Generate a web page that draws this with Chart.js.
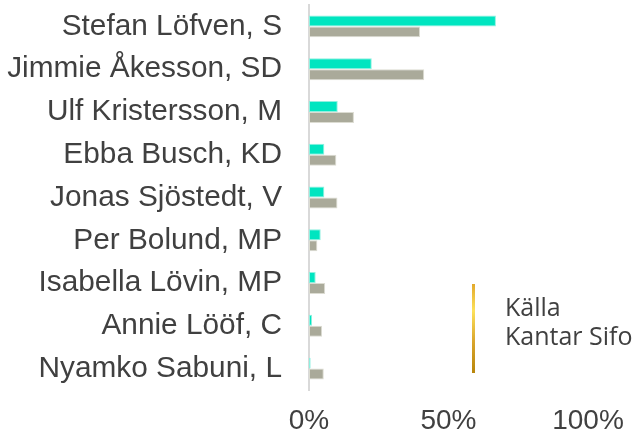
<!DOCTYPE html>
<html>
<head>
<meta charset="utf-8">
<script src="https://cdn.jsdelivr.net/npm/chart.js@4"></script>
<style>
    html, body { margin: 0; padding: 0; background: #fff; }
    #wrap { width: 639px; height: 441px; position: relative; }
</style>
</head>
<body>
<div id="wrap"><canvas id="chart"></canvas></div>
<script>
// categories and values (percent)
const leaders = [
    'Stefan Löfven, S',
    'Jimmie Åkesson, SD',
    'Ulf Kristersson, M',
    'Ebba Busch, KD',
    'Jonas Sjöstedt, V',
    'Per Bolund, MP',
    'Isabella Lövin, MP',
    'Annie Lööf, C',
    'Nyamko Sabuni, L'
];
const seriesNow = [67, 22.5, 10.3, 5.5, 5.5, 4.2, 2.4, 1.1, 0.6];
const seriesBefore = [39.8, 41.3, 16.1, 9.8, 10.2, 3.0, 5.8, 4.7, 5.3];
const xTicks = [0, 50, 100];
const sourceLines = ['Källa', 'Kantar Sifo'];

const textColor = '#404040';

// gold bar + source note in the lower right
const sourceNote = {
    id: 'sourceNote',
    afterDraw(chart) {
        const ctx = chart.ctx;
        ctx.save();
        const grad = ctx.createLinearGradient(0, 284, 0, 373);
        grad.addColorStop(0, '#e2a92c');
        grad.addColorStop(0.3, '#fde15a');
        grad.addColorStop(0.65, '#d9a52c');
        grad.addColorStop(1, '#b8860b');
        ctx.fillStyle = grad;
        ctx.fillRect(472, 284, 3, 89);

        ctx.fillStyle = textColor;
        ctx.font = '25px "Open Sans", sans-serif';
        ctx.textAlign = 'left';
        ctx.textBaseline = 'alphabetic';
        ctx.fillText(sourceLines[0], 505, 316);
        ctx.fillText(sourceLines[1], 505, 345);
        ctx.restore();
    }
};

new Chart(document.getElementById('chart'), {
    type: 'bar',
    data: {
        labels: leaders,
        datasets: [{
            label: 'Nu',
            data: seriesNow,
            backgroundColor: '#00e5c0',
            borderColor: '#8ff0e0',
            borderWidth: 1,
            borderSkipped: false
        }, {
            label: 'Tidigare',
            data: seriesBefore,
            backgroundColor: '#aaaa9a',
            borderColor: '#dcdcd2',
            borderWidth: 1,
            borderSkipped: false
        }]
    },
    options: {
        indexAxis: 'y',
        responsive: true,
        maintainAspectRatio: false,
        animation: false,
        layout: { padding: { left: 0, right: 51, top: 5, bottom: 0 } },
        datasets: {
            bar: { categoryPercentage: 0.513, barPercentage: 1 }
        },
        plugins: {
            legend: { display: false },
            tooltip: { enabled: false }
        },
        scales: {
            x: {
                min: 0,
                max: 100,
                afterBuildTicks: (scale) => {
                    scale.ticks = xTicks.map(v => ({ value: v }));
                },
                afterFit: (scale) => {
                    scale.height = 51;
                    scale.paddingLeft = 0;
                    scale.paddingRight = 0;
                },
                grid: { display: false, drawTicks: false },
                border: { display: false },
                ticks: {
                    padding: 14,
                    color: textColor,
                    font: { family: '"Liberation Sans", Arial, sans-serif', size: 28 },
                    maxRotation: 0,
                    callback: (v) => v + '%'
                }
            },
            y: {
                afterFit: (scale) => {
                    scale.width = 309;
                    scale.paddingTop = 0;
                    scale.paddingBottom = 0;
                },
                grid: { display: false, drawTicks: false },
                border: { display: true, color: '#d9d9d9', width: 2 },
                ticks: {
                    padding: 27,
                    color: textColor,
                    font: { family: '"Liberation Sans", Arial, sans-serif', size: 29.8 }
                }
            }
        }
    },
    plugins: [sourceNote]
});
</script>
</body>
</html>
